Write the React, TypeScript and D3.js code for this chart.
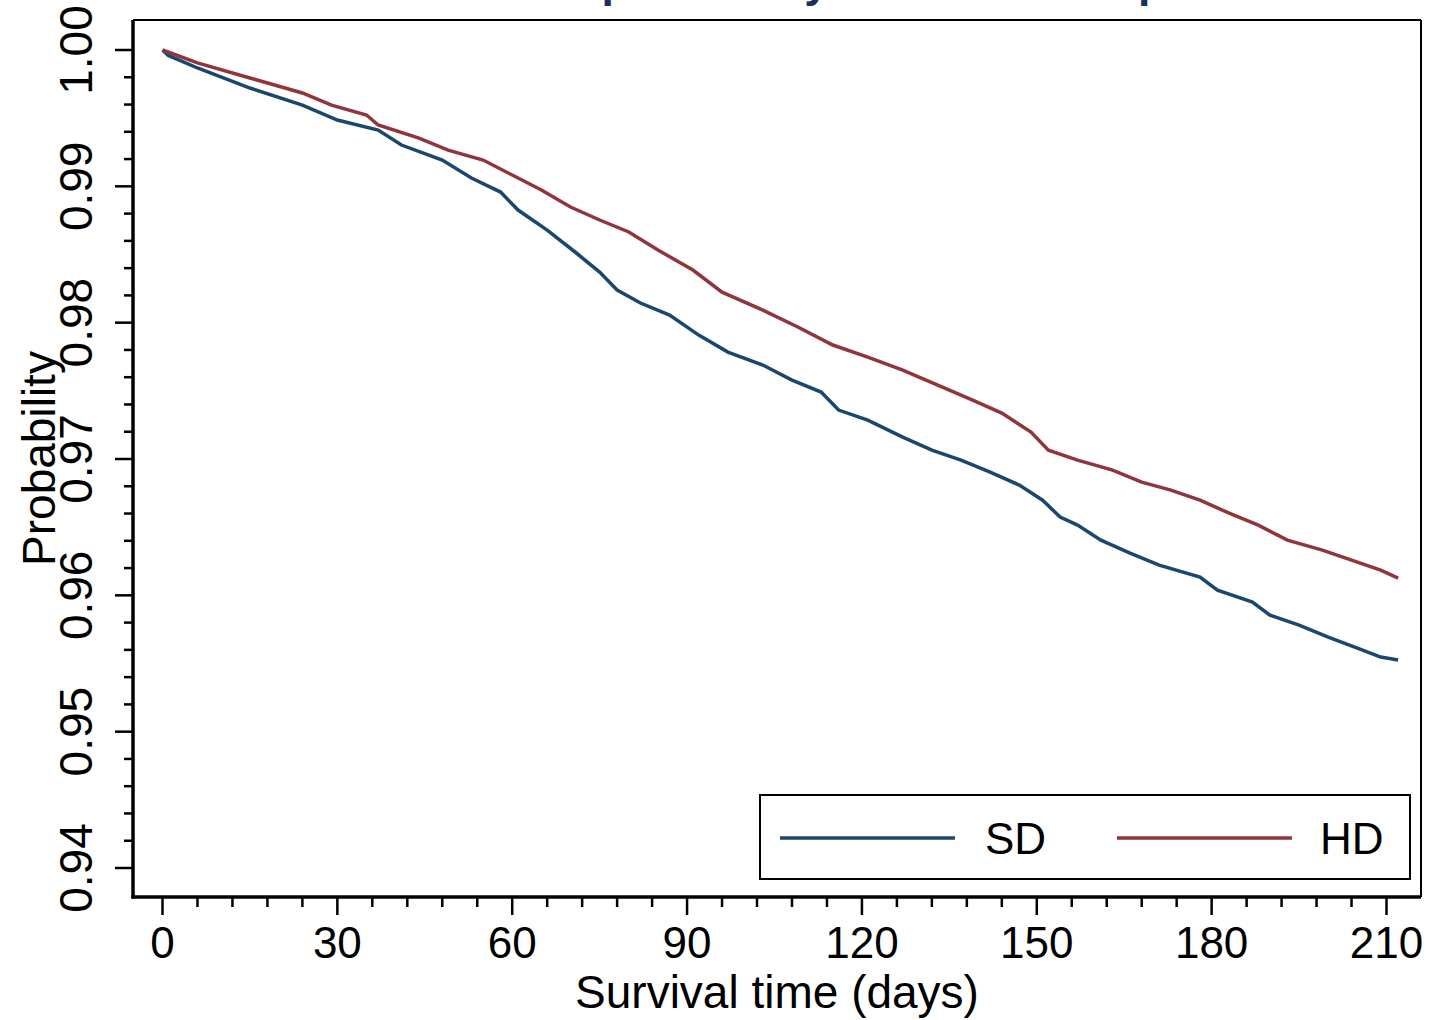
import React from "react";
import * as d3 from "d3";

const titleText = "Survival probability of SD and HD patients";
const xLabel = "Survival time (days)";
const yLabel = "Probability";
const xTicks = [0, 30, 60, 90, 120, 150, 180, 210];
const yTicks = [0.94, 0.95, 0.96, 0.97, 0.98, 0.99, 1.0];
const yTickLabels = ["0.94", "0.95", "0.96", "0.97", "0.98", "0.99", "1.00"];
const seriesNames = ["SD", "HD"];
const seriesColors = ["#1a476f", "#90353b"];

const sdDays = [0, 1, 6, 15, 24, 30, 37, 41, 48, 53, 58, 61, 66, 71, 75, 78, 82, 87, 92, 97, 103, 108, 113, 116, 121, 127, 132, 137, 142, 147, 151, 154, 157, 161, 166, 171, 178, 181, 187, 190, 195, 200, 205, 209, 212];
const sdSurv = [1.0, 0.9996, 0.99868, 0.99721, 0.99596, 0.99486, 0.99413, 0.99303, 0.99193, 0.99061, 0.98958, 0.98826, 0.98679, 0.98511, 0.98371, 0.98239, 0.98144, 0.98056, 0.97909, 0.97784, 0.97689, 0.97579, 0.97491, 0.97359, 0.97285, 0.97161, 0.97065, 0.96992, 0.96904, 0.96809, 0.96698, 0.96574, 0.96515, 0.96405, 0.9631, 0.96222, 0.96134, 0.96038, 0.9595, 0.95855, 0.95781, 0.95693, 0.95613, 0.95547, 0.95525];

const hdDays = [0, 6, 15, 24, 29, 35, 37, 44, 49, 55, 60, 65, 70, 75, 80, 85, 91, 96, 103, 109, 115, 121, 127, 133, 139, 144, 149, 152, 157, 163, 168, 173, 178, 183, 188, 193, 199, 204, 209, 212];
const hdSurv = [1.0, 0.99905, 0.99795, 0.99685, 0.99596, 0.99523, 0.9945, 0.99354, 0.99266, 0.99193, 0.99083, 0.98973, 0.98848, 0.98753, 0.98665, 0.98533, 0.98386, 0.98224, 0.98092, 0.97968, 0.97836, 0.97748, 0.97652, 0.97542, 0.97432, 0.97337, 0.97197, 0.97065, 0.96992, 0.96919, 0.9683, 0.96772, 0.96698, 0.96603, 0.96515, 0.96405, 0.96332, 0.96258, 0.96185, 0.96126];

const W = 1434;
const H = 1020;
const FONT = "'Liberation Sans', Arial, Helvetica, sans-serif";

export default function App() {
  const frame = { left: 133, right: 1421, top: 20, bottom: 897 };
  const x = d3.scaleLinear().domain([0, 210]).range([162.5, 1386.5]);
  const y = d3.scaleLinear().domain([0.94, 1.0]).range([868, 50]);

  const xMinor = d3.range(0, 211, 6).filter((d) => d % 30 !== 0);
  const yMinor = d3.range(0, 31).map((i) => 0.94 + i * 0.002).filter((_, i) => i % 5 !== 0);

  const line = d3
    .line<[number, number]>()
    .x((d) => x(d[0]))
    .y((d) => y(d[1]))
    .curve(d3.curveLinear);

  const sdData: [number, number][] = sdDays.map((d, i) => [d, sdSurv[i]]);
  const hdData: [number, number][] = hdDays.map((d, i) => [d, hdSurv[i]]);
  const series = [sdData, hdData];

  return (
    <svg
      width={W}
      height={H}
      style={{ position: "fixed", left: 0, top: 0, background: "#fff" }}
      fontFamily={FONT}
    >
      <rect x={0} y={0} width={W} height={H} fill="#fff" />
      <text x={416} y={-3} fontSize={44.5} fontWeight="bold" fill="#1f2d5c">
        {titleText}
      </text>

      {/* plot frame */}
      <line x1={frame.left} x2={frame.right} y1={frame.top} y2={frame.top} stroke="#000" strokeWidth={2} />
      <line x1={frame.right} x2={frame.right} y1={frame.top} y2={frame.bottom} stroke="#000" strokeWidth={2} />

      {/* series */}
      {series.map((s, i) => (
        <path
          key={i}
          d={line(s) || ""}
          fill="none"
          stroke={seriesColors[i]}
          strokeWidth={3.5}
          strokeLinejoin="miter"
        />
      ))}

      {/* y axis */}
      <line x1={frame.left} x2={frame.left} y1={frame.top} y2={frame.bottom + 1.5} stroke="#000" strokeWidth={3.5} />
      {yTicks.map((t, i) => (
        <g key={"yt" + i}>
          <line x1={frame.left - 18} x2={frame.left} y1={y(t)} y2={y(t)} stroke="#000" strokeWidth={2.5} />
          <text
            transform={`translate(92,${y(t)}) rotate(-90)`}
            textAnchor="middle"
            fontSize={46}
            fill="#000"
          >
            {yTickLabels[i]}
          </text>
        </g>
      ))}
      {yMinor.map((t, i) => (
        <line key={"ym" + i} x1={frame.left - 9} x2={frame.left} y1={y(t)} y2={y(t)} stroke="#000" strokeWidth={2.5} />
      ))}
      <text
        transform={`translate(55,${(frame.top + frame.bottom) / 2}) rotate(-90)`}
        textAnchor="middle"
        fontSize={46}
        fill="#000"
      >
        {yLabel}
      </text>

      {/* x axis */}
      <line x1={frame.left - 1.5} x2={frame.right} y1={frame.bottom} y2={frame.bottom} stroke="#000" strokeWidth={3.5} />
      {xTicks.map((t, i) => (
        <g key={"xt" + i}>
          <line x1={x(t)} x2={x(t)} y1={frame.bottom} y2={frame.bottom + 18} stroke="#000" strokeWidth={2.5} />
          <text x={x(t)} y={958} textAnchor="middle" fontSize={44} fill="#000">
            {t}
          </text>
        </g>
      ))}
      {xMinor.map((t, i) => (
        <line key={"xm" + i} x1={x(t)} x2={x(t)} y1={frame.bottom} y2={frame.bottom + 10} stroke="#000" strokeWidth={2.5} />
      ))}
      <text x={(frame.left + frame.right) / 2} y={1008} textAnchor="middle" fontSize={46} fill="#000">
        {xLabel}
      </text>

      {/* legend */}
      <rect x={760} y={795} width={650} height={84} fill="#fff" stroke="#000" strokeWidth={2} />
      {seriesNames.map((n, i) => (
        <g key={"lg" + i}>
          <line
            x1={780 + i * 337}
            x2={955 + i * 337}
            y1={838}
            y2={838}
            stroke={seriesColors[i]}
            strokeWidth={3.5}
          />
          <text x={985 + i * 335} y={854} fontSize={44} fill="#000">
            {n}
          </text>
        </g>
      ))}
    </svg>
  );
}
